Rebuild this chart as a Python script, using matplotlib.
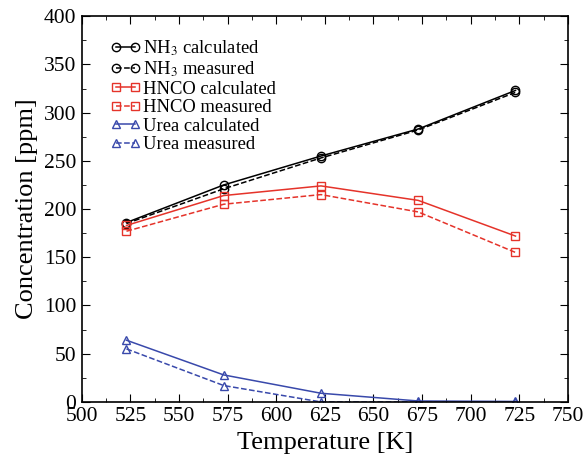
import matplotlib
matplotlib.use("Agg")
import matplotlib.pyplot as plt
from matplotlib.ticker import MultipleLocator

plt.rcParams['font.family'] = ['Liberation Serif', 'DejaVu Serif']
plt.rcParams['mathtext.fontset'] = 'stix'

temperature = [523, 573, 623, 673, 723]
nh3_calc = [186, 225, 255, 283, 323]
nh3_meas = [185, 221, 253, 282, 321]
hnco_calc = [183, 214, 224, 209, 172]
hnco_meas = [177, 205, 215, 197, 155]
urea_calc = [64, 28, 9, 1, 0.5]
urea_meas = [55, 17, 0, 0, 0]

red = '#e5332a'
blue = '#3949ab'

fig = plt.figure(figsize=(5.88, 4.62), dpi=100)
ax = fig.add_axes([0.139, 0.130, 0.827, 0.835])

mk = dict(markersize=6, markerfacecolor='none', markeredgewidth=1.0, linewidth=1.1)
ax.plot(temperature, nh3_calc, '-', marker='o', color='black', label=r'NH$_3$ calculated', **mk)
ax.plot(temperature, nh3_meas, '--', marker='o', color='black', label=r'NH$_3$ measured', **mk)
ax.plot(temperature, hnco_calc, '-', marker='s', color=red, label='HNCO calculated', **mk)
ax.plot(temperature, hnco_meas, '--', marker='s', color=red, label='HNCO measured', **mk)
ax.plot(temperature, urea_calc, '-', marker='^', color=blue, label='Urea calculated', **mk)
ax.plot(temperature, urea_meas, '--', marker='^', color=blue, label='Urea measured', **mk)

ax.set_xlim(500, 750)
ax.set_ylim(0, 400)
ax.xaxis.set_major_locator(MultipleLocator(25))
ax.xaxis.set_minor_locator(MultipleLocator(12.5))
ax.yaxis.set_major_locator(MultipleLocator(50))
ax.yaxis.set_minor_locator(MultipleLocator(25))
ax.tick_params(which='both', direction='in', top=True, right=True, labelsize=15.5)
ax.tick_params(which='major', length=6, pad=4)
ax.tick_params(which='minor', length=3)
for s in ax.spines.values():
    s.set_linewidth(1.2)

ax.set_xlabel('Temperature [K]', fontsize=19, labelpad=4)
ax.set_ylabel('Concentration [ppm]', fontsize=19, labelpad=4)

leg = ax.legend(loc='upper left', bbox_to_anchor=(0.035, 0.972), frameon=False, fontsize=13.4,
                numpoints=2, handlelength=1.67, handletextpad=0.12, labelspacing=0.08,
                borderaxespad=0.2)

fig.savefig('out.png', dpi=100)
